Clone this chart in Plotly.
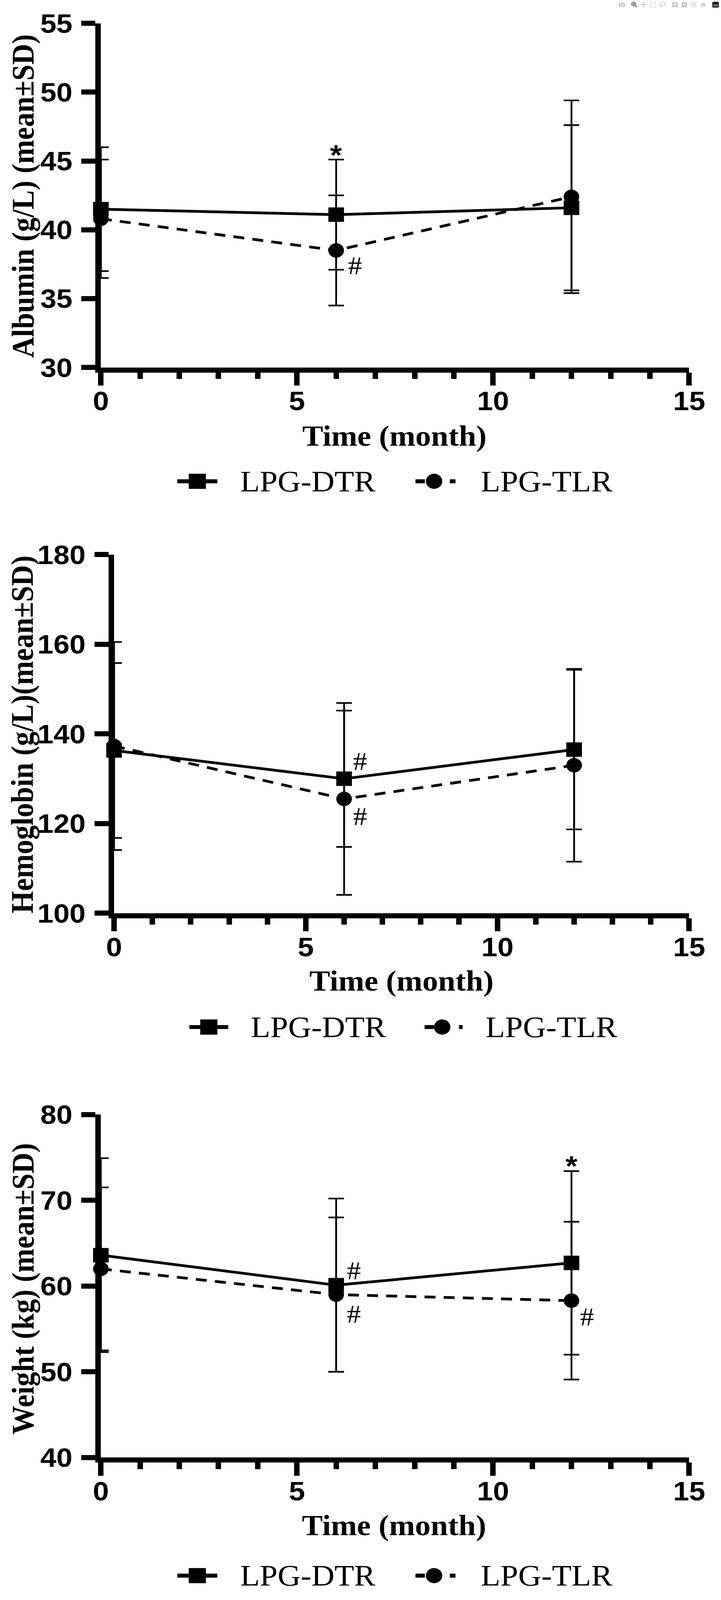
import plotly.graph_objects as go

W, H = 1846, 4436

# ---------------- data ----------------
months = [0, 6, 12]

alb_dtr = [41.5, 41.1, 41.6]
alb_dtr_sd = [4.5, 4.0, 6.0]
alb_tlr = [40.8, 38.5, 42.4]
alb_tlr_sd = [4.3, 4.0, 7.0]

hb_dtr = [136.3, 130.0, 136.5]
hb_dtr_sd = [19.5, 15.2, 17.8]
hb_tlr = [137.3, 125.5, 133.0]
hb_tlr_sd = [23.2, 21.4, 21.5]

wt_dtr = [63.6, 60.1, 62.7]
wt_dtr_sd = [11.3, 10.1, 10.7]
wt_tlr = [62.0, 59.0, 58.3]
wt_tlr_sd = [9.5, 9.0, 9.2]

series_names = ["LPG-DTR", "LPG-TLR"]
y_titles = ["Albumin (g/L) (mean±SD)", "Hemoglobin (g/L)(mean±SD)", "Weight (kg) (mean±SD)"]
x_title = "Time (month)"
y_ranges = [[30, 55], [100, 180], [40, 80]]
y_dticks = [5, 20, 10]
x_range = [0, 15]

# significance marks (panel, text, x, y)
sig_panel = [1, 1, 2, 2, 3, 3, 3, 3]
sig_text = ["*", "#", "#", "#", "*", "#", "#", "#"]
sig_x = [6.0, 6.48, 6.42, 6.42, 12.0, 6.45, 6.45, 12.4]
sig_y = [46.0, 37.4, 133.9, 121.6, 74.9, 61.8, 56.75, 56.4]

panels = [
    (alb_dtr, alb_dtr_sd, alb_tlr, alb_tlr_sd),
    (hb_dtr, hb_dtr_sd, hb_tlr, hb_tlr_sd),
    (wt_dtr, wt_dtr_sd, wt_tlr, wt_tlr_sd),
]

# ---------------- layout geometry (pixels) ----------------
boxes = [  # x0, x1, ytop, ybottom
    (245.5, 1804, 24, 996.5),
    (280.5, 1804, 1525, 2538.5),
    (245.5, 1804, 3107, 4076.5),
]
ytitle_pos = [(40, 512), (38, 2033), (40, 3600)]
xtitle_pos = [(1023, 1191), (1042, 2731), (1022, 4268)]
# legend: y centre, DTR line x0,x1, DTR text x, TLR line x0,x1, TLR text x
legend_geo = [
    (1318, 448, 554, 613, 1079, 1185, 1250),
    (2860, 480, 583, 640, 1103, 1204, 1262),
    (4410, 448, 554, 613, 1079, 1185, 1250),
]

SERIF = "Liberation Serif, Times New Roman, serif"
SANS = "Liberation Sans, Arial, sans-serif"

fig = go.Figure()
line_styles = [dict(color="black", width=7.5, dash="solid"),
               dict(color="black", width=7.5, dash="28px,21px")]
marker_styles = [dict(symbol="square", size=40, color="black"),
                 dict(symbol="circle", size=40, color="black")]

for i, (d1, s1, d2, s2) in enumerate(panels):
    xa = "x" if i == 0 else f"x{i+1}"
    ya = "y" if i == 0 else f"y{i+1}"
    for k, (vals, sds) in enumerate([(d1, s1), (d2, s2)]):
        fig.add_trace(go.Scatter(
            x=months, y=vals, name=series_names[k], mode="lines+markers",
            line=line_styles[k], marker=marker_styles[k],
            error_y=dict(type="data", array=sds, visible=True, color="black",
                         thickness=4.5, width=20),
            xaxis=xa, yaxis=ya, cliponaxis=False, showlegend=False,
        ))

layout = dict(width=W, height=H, autosize=False, margin=dict(l=0, r=0, t=0, b=0, pad=0),
              paper_bgcolor="white", plot_bgcolor="white", showlegend=False)

annotations = []
shapes = []
for i, (x0, x1, yt, yb) in enumerate(boxes):
    sfx = "" if i == 0 else str(i + 1)
    axis_common = dict(showline=True, linewidth=14, linecolor="black",
                       ticks="outside", tickwidth=14, tickcolor="black",
                       showgrid=False, zeroline=False, ticklabeloverflow="allow",
                       tickfont=dict(family=SANS, size=74, color="black", weight="bold"))
    layout["xaxis" + sfx] = dict(axis_common, domain=[x0 / W, x1 / W], range=x_range,
                                 anchor="y" + sfx, tick0=0, dtick=5, ticklen=36,
                                 ticklabelstandoff=-20,
                                 minor=dict(dtick=1, ticks="outside", ticklen=18,
                                            tickwidth=14, tickcolor="black"))
    layout["yaxis" + sfx] = dict(axis_common, domain=[1 - yb / H, 1 - yt / H],
                                 range=y_ranges[i], anchor="x" + sfx,
                                 tick0=y_ranges[i][0], dtick=y_dticks[i], ticklen=36,
                                 ticklabelstandoff=8)
    tx, ty = ytitle_pos[i]
    annotations.append(dict(text=y_titles[i], xref="paper", yref="paper",
                            x=tx / W, y=1 - ty / H, xanchor="center", yanchor="middle",
                            textangle=-90, showarrow=False,
                            font=dict(family=SERIF, size=80, color="black", weight="bold")))
    tx, ty = xtitle_pos[i]
    annotations.append(dict(text=x_title, xref="paper", yref="paper",
                            x=tx / W, y=1 - ty / H, xanchor="center", yanchor="middle",
                            showarrow=False,
                            font=dict(family=SERIF, size=80, color="black", weight="bold")))
    # legend (drawn as decoration)
    ly, a0, a1, at, b0, b1, bt = legend_geo[i]
    yc = 1 - ly / H
    shapes.append(dict(type="line", xref="paper", yref="paper", x0=a0 / W, x1=a1 / W,
                       y0=yc, y1=yc, line=dict(color="black", width=11)))
    shapes.append(dict(type="rect", xref="paper", yref="paper", xsizemode="pixel",
                       ysizemode="pixel", xanchor=(a0 + a1) / 2 / W, yanchor=yc,
                       x0=-22, x1=22, y0=-21, y1=21, fillcolor="black", line=dict(width=0)))
    shapes.append(dict(type="line", xref="paper", yref="paper", x0=b0 / W, x1=b1 / W,
                       y0=yc, y1=yc, line=dict(color="black", width=11, dash="24px,64px")))
    shapes.append(dict(type="circle", xref="paper", yref="paper", xsizemode="pixel",
                       ysizemode="pixel", xanchor=(b0 + b1) / 2 / W - 0.002, yanchor=yc,
                       x0=-21, x1=21, y0=-21, y1=21, fillcolor="black", line=dict(width=0)))
    for txt, tx0 in [(series_names[0], at), (series_names[1], bt)]:
        annotations.append(dict(text=txt, xref="paper", yref="paper", x=tx0 / W, y=yc,
                                xanchor="left", yanchor="middle", showarrow=False,
                                font=dict(family=SERIF, size=82, color="black")))

for p, t, x, y in zip(sig_panel, sig_text, sig_x, sig_y):
    sfx = "" if p == 1 else str(p)
    if t == "*":
        font = dict(family=SANS, size=78, color="black", weight="bold")
        ysh = -22
    else:
        font = dict(family=SERIF, size=72, color="black")
        ysh = 0
    annotations.append(dict(text=t, xref="x" + sfx, yref="y" + sfx, x=x, y=y,
                            xanchor="center", yanchor="middle", yshift=ysh,
                            showarrow=False, font=font))

layout["annotations"] = annotations
layout["shapes"] = shapes
fig.update_layout(**layout)

# fit the fixed 1846x4436 figure into the visible browser viewport
post = """
document.documentElement.style.margin='0';document.body.style.margin='0';
document.documentElement.style.overflow='hidden';document.body.style.overflow='hidden';
var gd=document.getElementById('{plot_id}');
var sx=Math.min(1, window.innerWidth/%d), sy=Math.min(1, window.innerHeight/%d);
gd.style.transformOrigin='0 0';
gd.style.transform='scale('+sx+','+sy+')';
""" % (W, H)
fig.write_html("out.html", post_script=post)
